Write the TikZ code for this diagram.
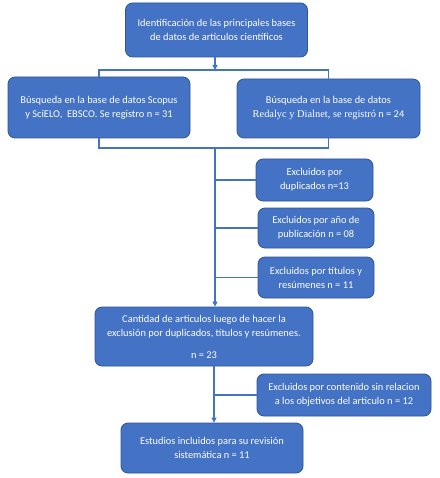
\documentclass[tikz,border=0pt]{standalone}
\usepackage{fontspec}
\setmainfont{Carlito}
\newfontfamily\tnr{Liberation Serif}
\usetikzlibrary{arrows.meta}
\definecolor{boxblue}{HTML}{4472C4}
\definecolor{boxedge}{HTML}{2F5597}
\definecolor{lineblue}{HTML}{4472C4}
\tikzset{
  box/.style={draw=boxedge, line width=0.8pt, fill=boxblue, rounded corners=7pt,
    text=white, align=center, inner sep=1pt,
    font=\fontsize{10.4}{14}\selectfont},
  conn/.style={draw=lineblue, line width=1.4pt},
  arr/.style={conn, -{Triangle[length=5pt,width=5pt]}}
}
\begin{document}
\begin{tikzpicture}[x=1pt,y=-1pt]
\useasboundingbox (0,0) rectangle (439,478);
\node[box, minimum width=182pt, minimum height=54pt] (b1) at (216.5,30)
  {Identificación de las principales bases\\de datos de artículos científicos};
\node[box, minimum width=182pt, minimum height=61pt] (b2) at (99,107.5)
  {Búsqueda en la base de datos Scopus\\y SciELO,\ \ EBSCO. Se registro n = 31};
\node[box, minimum width=183pt, minimum height=59pt] (b3) at (328.5,108.5)
  {Búsqueda en la base de datos\\{\tnr Redalyc y Dialnet, se registró} n = 24};
\node[box, minimum width=117pt, minimum height=42pt] (e1) at (314.5,180)
  {Excluidos por\\duplicados n=13};
\node[box, minimum width=116pt, minimum height=40pt] (e2) at (316,228)
  {Excluidos por año de\\publicación n = 08};
\node[box, minimum width=116pt, minimum height=41pt] (e3) at (316,277.5)
  {Excluidos por títulos y\\resúmenes n = 11};
\node[box, minimum width=218pt, minimum height=59pt] (c) at (204,336.5)
  {Cantidad de articulos luego de hacer la\\exclusión por duplicados, títulos y resúmenes.\\[8pt]n = 23};
\node[box, minimum width=174pt, minimum height=42pt] (e4) at (344,395)
  {Excluidos por contenido sin relacion\\a los objetivos del articulo n = 12};
\node[box, minimum width=182pt, minimum height=50pt] (f) at (212,448)
  {Estudios incluidos para su revisión\\sistemática n = 11};
\coordinate (top) at (215,70);
\coordinate (mid) at (215,148);
\draw[arr] (b1.south -| top) -- (top);
\draw[conn] (b2.north) |- (top) -| (b3.north);
\draw[conn] (b2.south) |- (mid) -| (b3.south);
\draw[arr] (mid) -- (mid |- c.north);
\draw[conn] (e1.west) -- (e1.west -| mid);
\draw[conn] (e2.west) -- (e2.west -| mid);
\draw[conn] (e3.west) -- (e3.west -| mid);
\coordinate (low) at (214,366);
\draw[arr] (c.south -| low) -- (f.north -| low);
\draw[conn] (e4.west) -- (e4.west -| low);
\end{tikzpicture}
\end{document}
